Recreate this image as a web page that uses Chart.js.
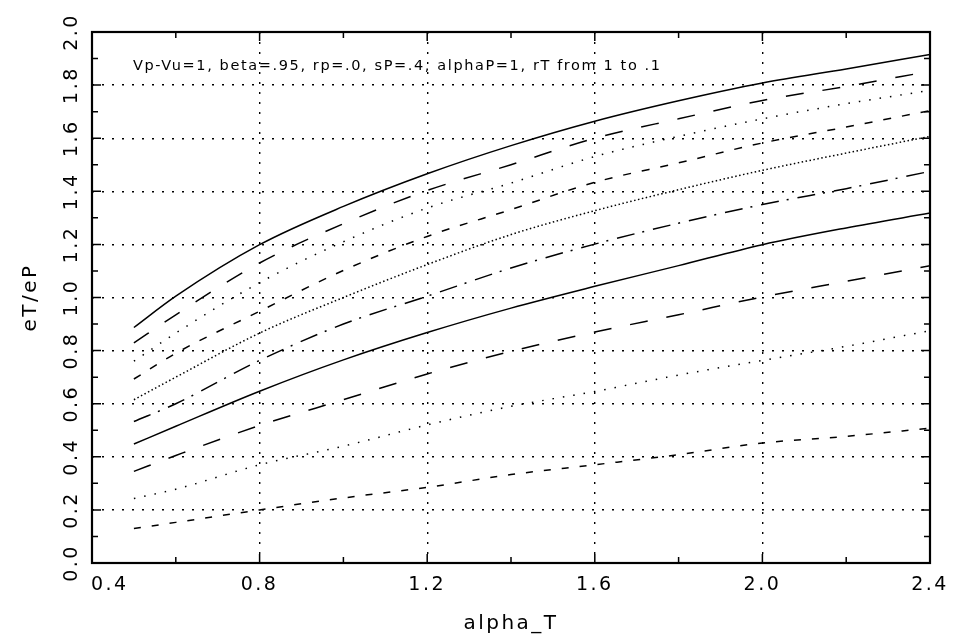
<!DOCTYPE html>
<html>
<head>
<meta charset="utf-8">
<title>eT/eP vs alpha_T</title>
<script src="https://cdn.jsdelivr.net/npm/chart.js@4.4.1/dist/chart.umd.min.js"></script>
<style>
  html, body { margin: 0; padding: 0; background: #fff; }
  #chart { display: block; }
</style>
</head>
<body>
<canvas id="chart" width="964" height="640"></canvas>
<script>
// ── Data ───────────────────────────────────────────────────────

const alphaT = [0.5, 0.6, 0.8, 1.0, 1.2, 1.4, 1.6, 1.8, 2.0, 2.2, 2.4];
const rTLabels = ["1.0", "0.9", "0.8", "0.7", "0.6", "0.5", "0.4", "0.3", "0.2", "0.1"];

const rT10 = [0.887, 1.005, 1.199, 1.343, 1.466, 1.572, 1.664, 1.741, 1.808, 1.861, 1.915];
const rT09 = [0.829, 0.935, 1.130, 1.278, 1.403, 1.500, 1.600, 1.673, 1.742, 1.795, 1.852];
const rT08 = [0.760, 0.866, 1.056, 1.210, 1.337, 1.431, 1.531, 1.607, 1.673, 1.730, 1.780];
const rT07 = [0.693, 0.790, 0.948, 1.102, 1.230, 1.331, 1.434, 1.507, 1.582, 1.642, 1.704];
const rT06 = [0.615, 0.700, 0.866, 1.000, 1.124, 1.237, 1.327, 1.406, 1.479, 1.544, 1.607];
const rT05 = [0.533, 0.600, 0.763, 0.900, 1.005, 1.111, 1.201, 1.280, 1.350, 1.410, 1.475];
const rT04 = [0.448, 0.515, 0.647, 0.765, 0.868, 0.960, 1.042, 1.120, 1.199, 1.262, 1.318];
const rT03 = [0.345, 0.405, 0.518, 0.615, 0.712, 0.797, 0.870, 0.935, 1.002, 1.061, 1.120];
const rT02 = [0.243, 0.278, 0.370, 0.440, 0.520, 0.590, 0.646, 0.708, 0.763, 0.816, 0.875];
const rT01 = [0.130, 0.153, 0.200, 0.245, 0.285, 0.333, 0.370, 0.408, 0.452, 0.477, 0.508];

const seriesValues = [rT10, rT09, rT08, rT07, rT06, rT05, rT04, rT03, rT02, rT01];

const annotation = "Vp-Vu=1, beta=.95, rp=.0, sP=.4, alphaP=1, rT from 1 to .1";

// ── Styles ────────────────────────────────────────────────────

// solid, long dash, sparse dot, dash, dense dot, dash-dot, then repeat
const lineDashes = [
  [], [18, 19], [1.5, 9], [8, 11], [1.5, 2.5],
  [18, 8, 2, 9], [], [18, 19], [1.5, 9], [7, 11],
];

const FONT = "DejaVu Sans";
const INK = "#000";

// Wide spacing like the old plotting font
function spaceLetters(chart) {
  chart.ctx.letterSpacing = "2.5px";
}

// Frame, inward ticks on all four sides and the annotation text
const framePlugin = {
  id: "frame",
  beforeUpdate: spaceLetters,
  beforeDraw: spaceLetters,
  afterDraw(chart) {
    const { ctx, chartArea: a, scales } = chart;
    ctx.save();
    ctx.strokeStyle = INK;
    ctx.lineWidth = 1.5;
    ctx.beginPath();
    for (let i = 1; i < 10; i++) {
      const x = scales.x.getPixelForValue(0.4 + 0.2 * i);
      const len = i % 2 ? 6 : 9;
      ctx.moveTo(x, a.bottom); ctx.lineTo(x, a.bottom - len);
      ctx.moveTo(x, a.top); ctx.lineTo(x, a.top + len);
    }
    for (let i = 1; i < 20; i++) {
      const y = scales.y.getPixelForValue(0.1 * i);
      const len = i % 2 ? 6 : 9;
      ctx.moveTo(a.left, y); ctx.lineTo(a.left + len, y);
      ctx.moveTo(a.right, y); ctx.lineTo(a.right - len, y);
    }
    ctx.stroke();

    ctx.lineWidth = 2.2;
    ctx.strokeRect(a.left, a.top, a.right - a.left, a.bottom - a.top);

    // annotation line, stretched to the width it has in the original
    ctx.font = `14.5px "${FONT}"`;
    ctx.letterSpacing = "0px";
    const w = ctx.measureText(annotation).width;
    ctx.letterSpacing = ((527 - w) / (annotation.length - 1)).toFixed(2) + "px";
    ctx.fillStyle = INK;
    ctx.textBaseline = "middle";
    ctx.textAlign = "left";
    ctx.fillText(annotation, scales.x.getPixelForValue(0.5) - 1, scales.y.getPixelForValue(1.87));
    ctx.restore();
  },
};

// ── Chart ─────────────────────────────────────────────────────

function fmt(v) {
  const s = Number(v).toFixed(1);
  return v === 0.4 ? "\u2007\u2007\u2009" + s : s;
}

const datasets = seriesValues.map((vals, i) => ({
  label: "rT=" + rTLabels[i],
  data: alphaT.map((a, j) => ({ x: a, y: vals[j] })),
  borderColor: INK,
  borderWidth: 1.5,
  borderDash: lineDashes[i],
  pointRadius: 0,
  fill: false,
  cubicInterpolationMode: "monotone",
}));

const gridOpts = { color: INK, lineWidth: 1.4, drawTicks: false };

new Chart(document.getElementById("chart"), {
  type: "line",
  data: { datasets },
  plugins: [framePlugin],
  options: {
    responsive: false,
    animation: false,
    layout: { padding: { top: 32, right: 34, left: 0, bottom: 0 } },
    plugins: { legend: { display: false }, tooltip: { enabled: false } },
    scales: {
      x: {
        type: "linear",
        min: 0.4,
        max: 2.4,
        grid: gridOpts,
        border: { display: false, dash: [2, 8] },
        ticks: {
          stepSize: 0.4,
          autoSkip: false,
          maxRotation: 0,
          padding: 11,
          color: INK,
          font: { family: FONT, size: 19 },
          callback: fmt,
        },
        title: {
          display: true,
          text: "alpha_T",
          color: INK,
          font: { family: FONT, size: 20 },
          padding: { top: 0, bottom: 4 },
        },
        afterFit: (s) => { s.height = 77; },
      },
      y: {
        min: 0,
        max: 2,
        grid: gridOpts,
        border: { display: false, dash: [2, 8] },
        ticks: {
          stepSize: 0.2,
          minRotation: 90,
          maxRotation: 90,
          crossAlign: "center",
          padding: 1,
          color: INK,
          font: { family: FONT, size: 19 },
          callback: (v) => Number(v).toFixed(1),
        },
        title: {
          display: true,
          text: "eT/eP",
          color: INK,
          font: { family: FONT, size: 20 },
          padding: { top: 19, bottom: 0 },
        },
        afterFit: (s) => { s.width = 92; },
      },
    },
  },
});
</script>
</body>
</html>
